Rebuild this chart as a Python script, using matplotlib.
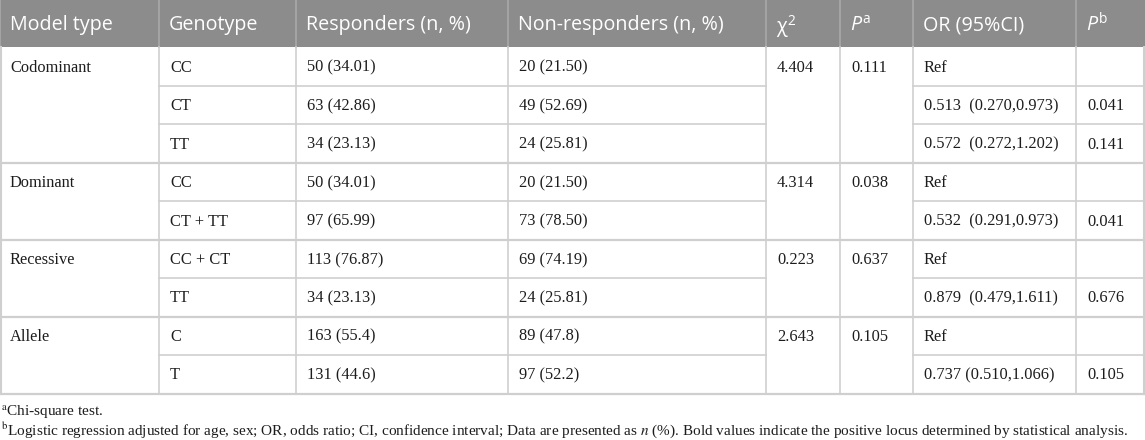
import matplotlib
matplotlib.use("Agg")
import matplotlib.pyplot as plt

plt.rcParams['mathtext.fontset'] = 'custom'
plt.rcParams['mathtext.rm'] = 'Open Sans'
plt.rcParams['mathtext.it'] = 'Open Sans:italic'

headers = ["Model type", "Genotype", "Responders (n, %)", "Non-responders (n, %)",
           "χ$^{2}$", r"$\mathit{P}^{\mathrm{a}}$", "OR (95%CI)", r"$\mathit{P}^{\mathrm{b}}$"]

model_types = ["Codominant", "Dominant", "Recessive", "Allele"]
group_sizes = [3, 2, 2, 2]
chi2 = ["4.404", "4.314", "0.223", "2.643"]
p_a = ["0.111", "0.038", "0.637", "0.105"]

genotypes = ["CC", "CT", "TT", "CC", "CT + TT", "CC + CT", "TT", "C", "T"]
responders = ["50 (34.01)", "63 (42.86)", "34 (23.13)", "50 (34.01)", "97 (65.99)",
              "113 (76.87)", "34 (23.13)", "163 (55.4)", "131 (44.6)"]
non_responders = ["20 (21.50)", "49 (52.69)", "24 (25.81)", "20 (21.50)", "73 (78.50)",
                  "69 (74.19)", "24 (25.81)", "89 (47.8)", "97 (52.2)"]
odds = ["Ref", "0.513  (0.270,0.973)", "0.572  (0.272,1.202)", "Ref", "0.532  (0.291,0.973)",
        "Ref", "0.879  (0.479,1.611)", "Ref", "0.737 (0.510,1.066)"]
p_b = ["", "0.041", "0.141", "", "0.041", "", "0.676", "", "0.105"]

foot_a = r"$^{\mathrm{a}}$Chi-square test."
foot_b = (r"$^{\mathrm{b}}$Logistic regression adjusted for age, sex; OR, odds ratio; CI, confidence interval; "
          r"Data are presented as $n$ (%). Bold values indicate the positive locus determined by statistical analysis.")

W, H = 1145, 440
col_x = [0, 159, 296, 508, 766, 840, 913, 1076, 1145]
head_h = 47.5
row_h = 38.45
header_bg = "#8c8c8c"
line_c = "#cfcfcf"
text_c = "#1c1c1c"

fig = plt.figure(figsize=(W / 100, H / 100), dpi=100)
ax = fig.add_axes([0, 0, 1, 1])
ax.set_xlim(0, W)
ax.set_ylim(H, 0)
ax.axis("off")

# header
ax.fill_between([0, W], 0, head_h, color=header_bg, lw=0)
for i, h in enumerate(headers):
    ax.plot([col_x[i], col_x[i]], [0, head_h], color="#a8a8a8", lw=1.2)
    ax.text(col_x[i] + 10, head_h / 2 - 1, h, color="white", fontsize=14.2,
            family="Open Sans", va="center_baseline", ha="left")

serif = ["Liberation Serif", "DejaVu Serif"]
body_fs = 11.8


def cell(x, y, s):
    ax.text(x, y - 1, s, fontsize=body_fs, family=serif, color=text_c, va="center_baseline")


# body
r = 0
for g, size in enumerate(group_sizes):
    top = head_h + r * row_h
    bot = top + size * row_h
    yc = top + row_h / 2
    cell(col_x[0] + 10, yc, model_types[g])
    cell(col_x[4] + 11, yc, chi2[g])
    cell(col_x[5] + 11, yc, p_a[g])
    for k in range(size):
        y0 = top + k * row_h
        yc = y0 + row_h / 2
        cell(col_x[1] + 11, yc, genotypes[r])
        cell(col_x[2] + 11, yc, responders[r])
        cell(col_x[3] + 11, yc, non_responders[r])
        cell(col_x[6] + 11, yc, odds[r])
        cell(col_x[7] + 11, yc, p_b[r])
        if k > 0:
            for a, b in [(1, 4), (6, 8)]:
                ax.plot([col_x[a], col_x[b]], [y0, y0], color=line_c, lw=1.2)
        r += 1
    ax.plot([0, W], [bot, bot], color=line_c, lw=1.6)
    for x in col_x:
        ax.plot([x, x], [top, bot], color=line_c, lw=1.2)

ax.plot([0.7, 0.7], [head_h, head_h + 9 * row_h], color=line_c, lw=1.5)
ax.plot([W - 0.7, W - 0.7], [head_h, head_h + 9 * row_h], color=line_c, lw=1.5)

ax.text(1, 410, foot_a, fontsize=11.0, family=serif, math_fontfamily="stix", color=text_c, va="center_baseline")
ax.text(1, 427.5, foot_b, fontsize=11.0, family=serif, math_fontfamily="stix", color=text_c, va="center_baseline")

fig.savefig("out.png", dpi=100)
